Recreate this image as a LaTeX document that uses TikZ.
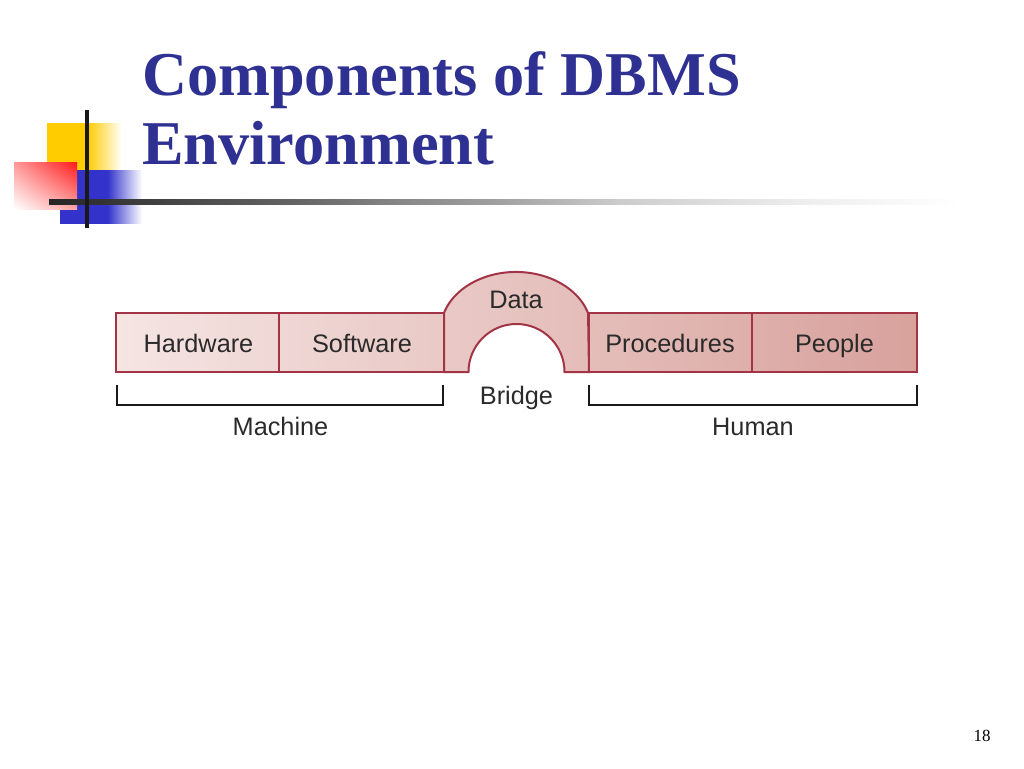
\documentclass[tikz,border=0pt]{standalone}
\usepackage{fontspec}
\usetikzlibrary{shadings}
\setmainfont{Liberation Serif}
\newfontfamily\labelfont{Liberation Sans}
\definecolor{titleblue}{HTML}{2E3192}
\definecolor{barline}{HTML}{A33446}
\definecolor{barleft}{HTML}{F5E5E3}
\definecolor{barright}{HTML}{D8A19C}
\definecolor{labelgray}{HTML}{2A2A2A}
\definecolor{logoyellow}{HTML}{FFCC00}
\definecolor{logoblue}{HTML}{3333CC}
\definecolor{logored}{HTML}{FF1A1A}
\pgfdeclarehorizontalshading{yelfade}{100bp}{color(0bp)=(logoyellow); color(25bp)=(logoyellow); color(52bp)=(logoyellow); color(75bp)=(white); color(100bp)=(white)}
\pgfdeclarehorizontalshading{bluefade}{100bp}{color(0bp)=(logoblue); color(25bp)=(logoblue); color(54bp)=(logoblue); color(75bp)=(white); color(100bp)=(white)}
\pgfdeclarehorizontalshading{linefade}{100bp}{color(0bp)=(black!85); color(25bp)=(black!85); color(27.7bp)=(black!80); color(38.2bp)=(black!60); color(43.5bp)=(black!47); color(48.7bp)=(black!37); color(55bp)=(black!20); color(64.5bp)=(black!7); color(72.9bp)=(white); color(100bp)=(white)}
\tikzset{
  titletext/.style={anchor=base west, inner sep=0pt, text=titleblue, font=\fontsize{62.3}{62.3}\selectfont\bfseries},
  barlabel/.style={anchor=base, inner sep=0pt, text=labelgray, font=\labelfont\fontsize{25.3}{25.3}\selectfont},
  bracket/.style={draw=black!90, line width=2.2pt},
  barborder/.style={draw=barline, line width=2pt, line join=miter}
}
\begin{document}
\begin{tikzpicture}[x=1pt,y=-1pt]
\useasboundingbox (0,0) rectangle (1024,768);
% logo
\shade[shading=yelfade] (47,123) rectangle (122,171);
\shade[shading=bluefade] (60,170) rectangle (142,223);
\shade[upper right=logored, upper left=logored!45, lower right=logored!40, lower left=white] (14,162) rectangle (77,209);
\shade[shading=linefade] (49,199) rectangle (1000,204);
\fill[black!90] (85,110) rectangle (89,228);
% title
\node[titletext] (t1) at (142,95) {Components of DBMS};
\node[titletext] (t2) at (142,164) {Environment};
% bar fill
\shade[left color=barleft, right color=barright]
  (116,313) -- (444,313) arc[start angle=197, end angle=343, x radius=75.3, y radius=58]
  -- (917,313) -- (917,372) -- (564.5,372)
  arc[start angle=0, end angle=-180, radius=48] -- (116,372) -- cycle;
% borders
\draw[barborder] (116,313) rectangle (279,372);
\draw[barborder] (279,313) rectangle (444,372);
\draw[barborder] (589,313) rectangle (752,372);
\draw[barborder] (752,313) rectangle (917,372);
\draw[barborder] (444,372) -- (444,313) arc[start angle=197, end angle=343, x radius=75.3, y radius=58] -- (589,372) -- (564.5,372)
  arc[start angle=0, end angle=-180, radius=48] -- cycle;
% labels
\node[barlabel] (hw) at (198.5,352.5) {Hardware};
\node[barlabel] (sw) at (362,352.5) {Software};
\node[barlabel] (data) at (516,308) {Data};
\node[barlabel] (proc) at (670,352.5) {Procedures};
\node[barlabel] (ppl) at (834.5,352.5) {People};
\node[barlabel] (bridge) at (516.5,404) {Bridge};
\node[barlabel] (mach) at (280.5,435) {Machine};
\node[barlabel] (hum) at (753,435) {Human};
% brackets
\coordinate (mA) at (117,385); \coordinate (mB) at (443,385);
\coordinate (hA) at (589,385); \coordinate (hB) at (917,385);
\draw[bracket] (mA) -- ++(0,20) -| (mB);
\draw[bracket] (hA) -- ++(0,20) -| (hB);
% page number
\node[anchor=base, inner sep=0pt, font=\fontsize{17}{17}\selectfont] (pg) at (982,741) {18};
\end{tikzpicture}
\end{document}
